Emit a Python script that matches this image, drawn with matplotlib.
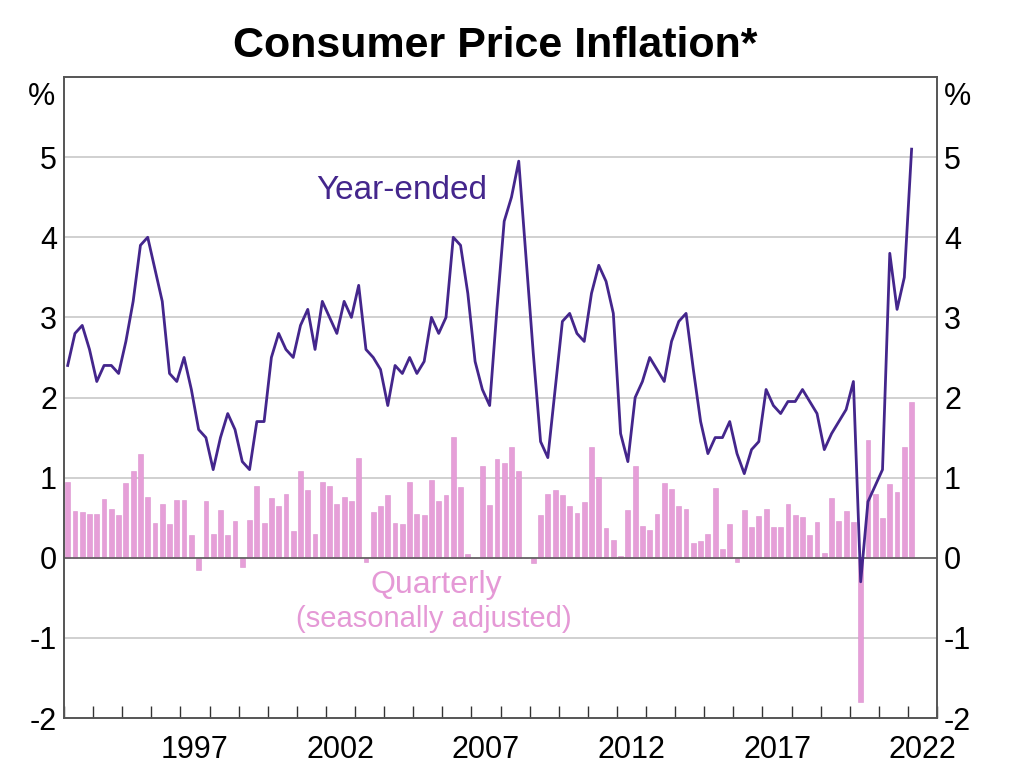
import matplotlib
matplotlib.use("Agg")
import matplotlib.pyplot as plt
import numpy as np
import pandas as pd

plt.rcParams['font.family'] = ['Liberation Sans', 'DejaVu Sans']

# quarterly observations, 1993 Q1 to 2022 Q1
quarters = pd.period_range('1993Q1', '2022Q1', freq='Q')

year_ended = [
    2.4, 2.8, 2.9, 2.6, 2.2, 2.4, 2.4, 2.3, 2.7, 3.2,
    3.9, 4.0, 3.6, 3.2, 2.3, 2.2, 2.5, 2.1, 1.6, 1.5,
    1.1, 1.5, 1.8, 1.6, 1.2, 1.1, 1.7, 1.7, 2.5, 2.8,
    2.6, 2.5, 2.9, 3.1, 2.6, 3.2, 3.0, 2.8, 3.2, 3.0,
    3.4, 2.6, 2.5, 2.35, 1.9, 2.4, 2.3, 2.5, 2.3, 2.45,
    3.0, 2.8, 3.0, 4.0, 3.9, 3.3, 2.45, 2.1, 1.9, 3.1,
    4.2, 4.5, 4.95, 3.75, 2.55, 1.45, 1.25, 2.1, 2.95, 3.05,
    2.8, 2.7, 3.3, 3.65, 3.45, 3.05, 1.55, 1.2, 2.0, 2.2,
    2.5, 2.35, 2.2, 2.7, 2.95, 3.05, 2.35, 1.7, 1.3, 1.5,
    1.5, 1.7, 1.3, 1.05, 1.35, 1.45, 2.1, 1.9, 1.8, 1.95,
    1.95, 2.1, 1.95, 1.8, 1.35, 1.55, 1.7, 1.85, 2.2, -0.3,
    0.7, 0.9, 1.1, 3.8, 3.1, 3.5, 5.1,
]

quarterly = [
    0.95, 0.58, 0.57, 0.54, 0.54, 0.73, 0.61, 0.53, 0.93, 1.08,
    1.29, 0.76, 0.44, 0.67, 0.42, 0.72, 0.72, 0.28, -0.15, 0.71,
    0.30, 0.60, 0.28, 0.46, -0.11, 0.47, 0.90, 0.44, 0.74, 0.64,
    0.80, 0.33, 1.08, 0.85, 0.30, 0.95, 0.89, 0.67, 0.76, 0.71,
    1.24, -0.05, 0.57, 0.64, 0.78, 0.43, 0.42, 0.94, 0.55, 0.53,
    0.97, 0.71, 0.78, 1.51, 0.88, 0.05, 0.0, 1.15, 0.66, 1.23,
    1.18, 1.38, 1.08, 0.0, -0.06, 0.53, 0.79, 0.84, 0.78, 0.64,
    0.56, 0.70, 1.38, 1.01, 0.37, 0.22, 0.02, 0.60, 1.14, 0.40,
    0.35, 0.55, 0.93, 0.86, 0.65, 0.61, 0.19, 0.21, 0.30, 0.87,
    0.11, 0.42, -0.05, 0.60, 0.39, 0.52, 0.61, 0.39, 0.38, 0.67,
    0.53, 0.51, 0.29, 0.45, 0.06, 0.74, 0.46, 0.58, 0.45, -1.80,
    1.47, 0.79, 0.50, 0.92, 0.82, 1.38, 1.95,
]

y_ticks = [-2, -1, 0, 1, 2, 3, 4, 5]
year_labels = [1997, 2002, 2007, 2012, 2017, 2022]

line_col = '#44268C'
bar_col = '#E69FD8'
text_pink = '#E599D6'

# decimal year at the middle of each quarter
x = np.array([q.year + (q.quarter - 0.5) / 4 for q in quarters])

fig = plt.figure(figsize=(10.23, 7.68), dpi=100)
ax = fig.add_axes([0.0626, 0.0651, 0.8534, 0.8346])

for y in y_ticks[1:]:
    ax.axhline(y, color='#C4C4C4', lw=1.1, zorder=0)

ax.bar(x, quarterly, width=0.165, color=bar_col, edgecolor='#DC92CF',
       linewidth=0.4, zorder=2)
ax.axhline(0, color='#555555', lw=1.1, zorder=2.5)
ax.plot(x, year_ended, color=line_col, lw=2.0, zorder=3)

ax.set_xlim(1993, 2023)
ax.set_ylim(-2, 6)

# year ticks at year boundaries, labels centred in the year
ax.set_xticks(np.arange(1993, 2024))
ax.set_xticklabels([])
ax.tick_params(axis='x', which='major', direction='in', length=9,
               width=1.0, color='#333333')
ax.set_xticks([yr + 0.5 for yr in year_labels], minor=True)
ax.set_xticklabels([str(yr) for yr in year_labels], minor=True, fontsize=22)
ax.tick_params(axis='x', which='minor', length=0, pad=12)

ax.set_yticks(y_ticks)
ax.set_yticklabels([str(v) for v in y_ticks], fontsize=22)
ax.tick_params(axis='y', length=0, pad=5)

ax2 = ax.twinx()
ax2.set_ylim(-2, 6)
ax2.set_yticks(y_ticks)
ax2.set_yticklabels([str(v) for v in y_ticks], fontsize=22)
ax2.tick_params(axis='y', length=0, pad=5)

for a in (ax, ax2):
    for s in a.spines.values():
        s.set_color('#555555')
        s.set_linewidth(1.2)

fig.text(0.041, 0.874, '%', fontsize=22, ha='center', va='center')
fig.text(0.936, 0.874, '%', fontsize=22, ha='center', va='center')

fig.text(0.484, 0.94, 'Consumer Price Inflation*', fontsize=31,
         fontweight='bold', ha='center', va='center')

ax.text(2004.6, 4.58, 'Year-ended', color=line_col, fontsize=24,
        ha='center', va='center')
ax.text(2005.8, -0.34, 'Quarterly', color=text_pink, fontsize=23,
        ha='center', va='center')
ax.text(2005.7, -0.76, '(seasonally adjusted)', color=text_pink,
        fontsize=21, ha='center', va='center')

fig.savefig('out.png', dpi=100)
